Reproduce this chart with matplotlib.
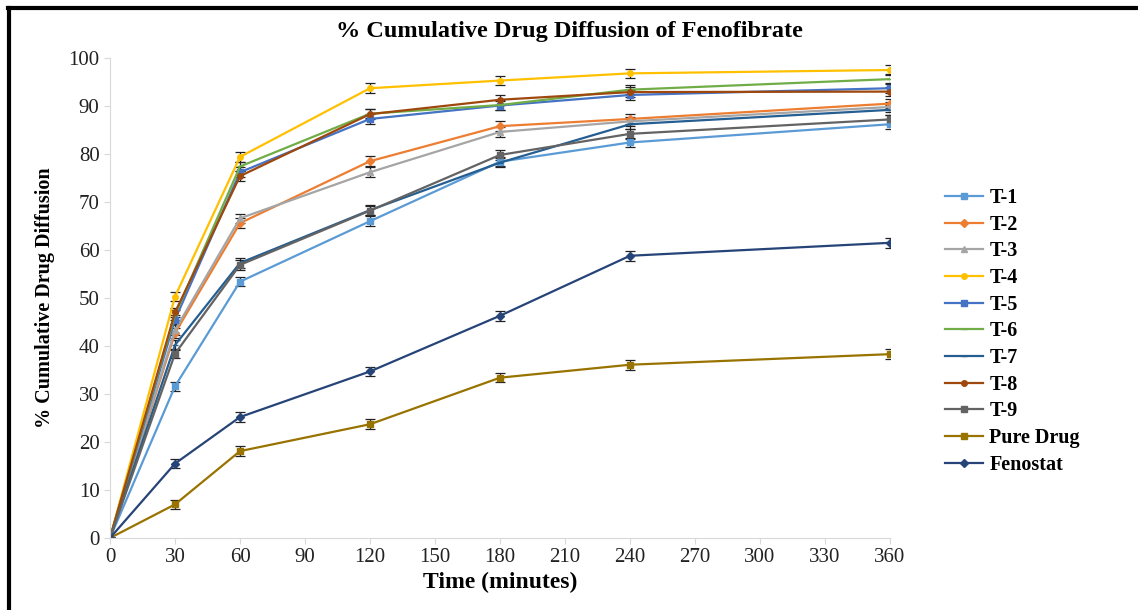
import numpy as np
import matplotlib
matplotlib.use("Agg")
import matplotlib.pyplot as plt
from matplotlib.lines import Line2D

plt.rcParams['font.family'] = ['Liberation Serif', 'DejaVu Serif']

# time points (minutes)
time = [0, 30, 60, 120, 180, 240, 360]

t1 = [0, 31.6, 53.4, 66.0, 78.4, 82.4, 86.2]
t2 = [0, 42.7, 65.6, 78.5, 85.8, 87.3, 90.5]
t3 = [0, 43.3, 66.6, 76.2, 84.6, 86.8, 89.8]
t4 = [0, 50.3, 79.4, 93.7, 95.3, 96.8, 97.5]
t5 = [0, 45.5, 76.2, 87.3, 90.1, 92.3, 93.7]
t6 = [0, 46.5, 77.4, 88.4, 90.2, 93.4, 95.6]
t7 = [0, 40.2, 57.3, 68.3, 78.2, 86.2, 89.2]
t8 = [0, 47.0, 75.4, 88.3, 91.3, 92.9, 93.0]
t9 = [0, 38.4, 56.9, 68.2, 79.8, 84.2, 87.2]
pure = [0, 7.0, 18.1, 23.7, 33.4, 36.1, 38.3]
fenostat = [0, 15.5, 25.2, 34.7, 46.3, 58.8, 61.5]

labels = ['T-1', 'T-2', 'T-3', 'T-4', 'T-5', 'T-6', 'T-7', 'T-8', 'T-9',
          'Pure Drug', 'Fenostat']
series = [t1, t2, t3, t4, t5, t6, t7, t8, t9, pure, fenostat]
errs = [1.0, 1.0, 1.0, 1.0, 1.0, 1.0, 1.0, 1.0, 1.0, 1.0, 1.0]

colors = ['#5B9BD5', '#ED7D31', '#A5A5A5', '#FFC000', '#4472C4', '#70AD47',
          '#255E91', '#9E480E', '#636363', '#997300', '#264478']
markers = ['s', 'D', '^', 'o', 's', '_', '_', 'o', 's', 's', 'D']

fig = plt.figure(figsize=(11.38, 6.10), dpi=100)
ax = fig.add_axes([110 / 1138, 1 - 538 / 610, 780 / 1138, 480 / 610])

for y, lab, c, m, e in zip(series, labels, colors, markers, errs):
    ax.errorbar(time, y, yerr=[0] + [e] * (len(y) - 1), color=c, marker=m,
                ms=4, lw=1.6, ecolor='#222222', elinewidth=0.9, capsize=3.5,
                capthick=0.9, label=lab)

ax.set_xlim(0, 360)
ax.set_ylim(0, 100)
ax.set_xticks(np.arange(0, 361, 30))
ax.set_yticks(np.arange(0, 101, 10))
ax.tick_params(labelsize=15, colors='#D9D9D9', labelcolor='#222222',
               length=4)
for s in ['top', 'right']:
    ax.spines[s].set_visible(False)
for s in ['left', 'bottom']:
    ax.spines[s].set_color('#D9D9D9')

ax.set_xlabel('Time (minutes)', fontsize=17, fontweight='bold', labelpad=3)
ax.set_ylabel('% Cumulative Drug Diffusion', fontsize=14.5, fontweight='bold',
              labelpad=10)
fig.text(0.5, 1 - 31 / 610, '% Cumulative Drug Diffusion of Fenofibrate',
         ha='center', va='center', fontsize=17.5, fontweight='bold')

handles = [Line2D([], [], color=c, marker=m, ms=4, lw=1.6)
           for c, m in zip(colors, markers)]
leg = ax.legend(handles, labels, loc='upper left',
                bbox_to_anchor=(927 / 1138, 1 - 170 / 610),
                bbox_transform=fig.transFigure, frameon=False,
                prop={'weight': 'bold', 'size': 14.5}, handlelength=1.9,
                labelspacing=0.33, handletextpad=0.3)

# black frame lines of the cropped image
fig.add_artist(Line2D([8 / 1138, 1], [1 - 8 / 610, 1 - 8 / 610],
                      transform=fig.transFigure, color='black', lw=3))
fig.add_artist(Line2D([9 / 1138, 9 / 1138], [0, 1 - 8 / 610],
                      transform=fig.transFigure, color='black', lw=3))

fig.savefig('out.png', dpi=100)
